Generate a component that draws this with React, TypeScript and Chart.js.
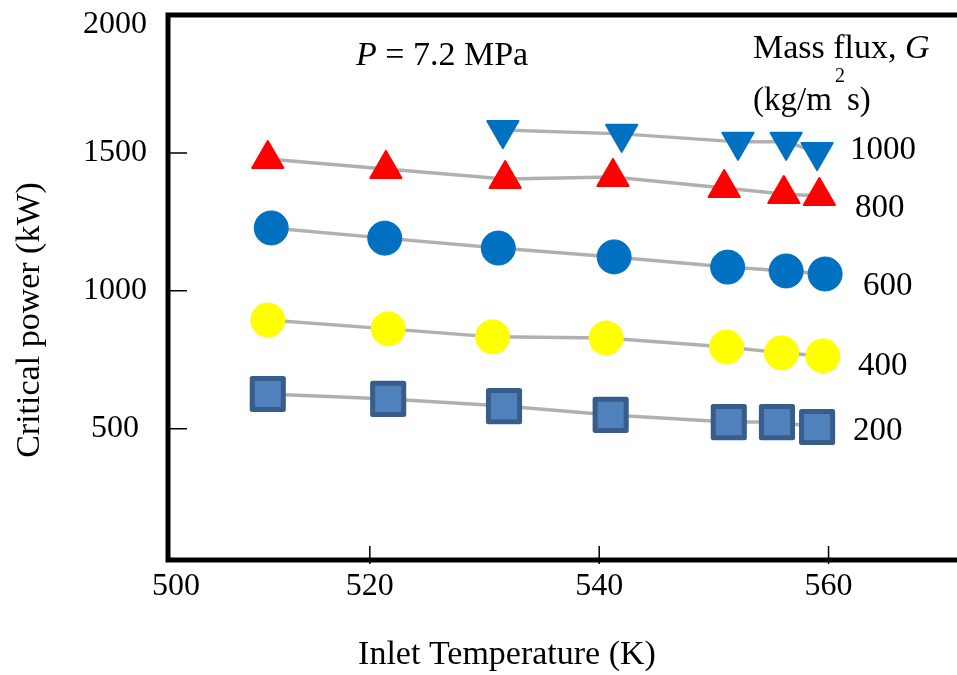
import React, { useEffect, useRef } from 'react';
import { Chart, registerables } from 'chart.js';

Chart.register(...registerables);

// ---- axis ranges & ticks ----
const X_MIN = 502.4;
const X_MAX = 571.2;
const Y_MIN = 24;
const Y_MAX = 2000;
const xTickValues = [502.4, 520, 540, 560];
const xTickLabels = ['500', '520', '540', '560'];
const yTickValues = [500, 1000, 1500, 2000];
const yTickLabels = ['500', '1000', '1500', '2000'];

// ---- series (mass flux G, kg/m2 s) ----
const seriesNames = ['1000', '800', '600', '400', '200'];

const g1000X = [531.6, 541.96, 552.1, 556.3, 559.0];
const g1000Y = [1583, 1569, 1540, 1540, 1503];

const g800X = [511.1, 521.4, 531.8, 541.2, 550.9, 556.1, 559.2];
const g800Y = [1478, 1442, 1405, 1413, 1373, 1351, 1344];

const g600X = [511.4, 521.3, 531.2, 541.3, 551.2, 556.3, 559.7];
const g600Y = [1228, 1191, 1155, 1123, 1086, 1072, 1061];

const g400X = [511.1, 521.6, 530.7, 540.6, 551.1, 555.9, 559.5];
const g400Y = [894, 862, 833, 829, 796, 775, 764];

const g200X = [511.1, 521.6, 531.7, 541.0, 551.3, 555.5, 559.0];
const g200Y = [626, 608, 582, 550, 524, 524, 506];

const FONT = '"Liberation Serif", "Times New Roman", serif';

const toPts = (xs: number[], ys: number[]) => xs.map((x, i) => ({ x, y: ys[i] }));

const framePlugin = {
  id: 'frame',
  beforeDatasetsDraw(chart: any) {
    const { ctx, chartArea, scales } = chart;
    const { left, right, top, bottom } = chartArea;
    const xs = scales.x;
    const ys = scales.y;
    ctx.save();
    ctx.strokeStyle = '#000';
    ctx.lineWidth = 5;
    ctx.lineJoin = 'miter';
    ctx.beginPath();
    ctx.moveTo(right + 10, top);
    ctx.lineTo(left, top);
    ctx.lineTo(left, bottom);
    ctx.lineTo(right + 10, bottom);
    ctx.stroke();
    ctx.lineWidth = 1.5;
    ctx.beginPath();
    for (const v of yTickValues) {
      if (v <= Y_MIN + 1 || v >= Y_MAX - 1) continue;
      const py = ys.getPixelForValue(v);
      ctx.moveTo(left, py);
      ctx.lineTo(left + 19, py);
    }
    for (const v of xTickValues) {
      if (v <= X_MIN + 0.1 || v >= X_MAX - 0.1) continue;
      const px = xs.getPixelForValue(v);
      ctx.moveTo(px, bottom + 4);
      ctx.lineTo(px, bottom - 14);
    }
    ctx.stroke();

    // tick labels
    ctx.fillStyle = '#000';
    ctx.font = `32px ${FONT}`;
    ctx.textAlign = 'center';
    ctx.textBaseline = 'middle';
    yTickValues.forEach((v, i) => {
      const py = Math.max(ys.getPixelForValue(v), top + 10);
      ctx.fillText(yTickLabels[i], left - 53, py);
    });
    xTickValues.forEach((v, i) => {
      const px = Math.max(xs.getPixelForValue(v), left + 8);
      ctx.fillText(xTickLabels[i], px, bottom + 27);
    });
    ctx.restore();
    ctx.lineJoin = 'round';
  },
  afterDatasetsDraw(chart: any) {
    chart.ctx.lineJoin = 'miter';
  },
  afterDraw(chart: any) {
    const { ctx } = chart;
    ctx.save();
    ctx.fillStyle = '#000';
    ctx.textBaseline = 'alphabetic';
    ctx.textAlign = 'left';

    // P = 7.2 MPa
    ctx.font = `italic 34px ${FONT}`;
    ctx.fillText('P', 356, 65);
    const pw = ctx.measureText('P').width;
    ctx.font = `34px ${FONT}`;
    ctx.fillText(' = 7.2 MPa', 356 + pw, 65);

    // Mass flux, G
    ctx.font = `34px ${FONT}`;
    ctx.fillText('Mass flux, ', 753, 58);
    const mw = ctx.measureText('Mass flux, ').width;
    ctx.font = `italic 34px ${FONT}`;
    ctx.fillText('G', 753 + mw, 58);

    // (kg/m2 s)
    ctx.font = `33px ${FONT}`;
    ctx.fillText('(kg/m', 753, 110);
    ctx.fillText('s)', 847, 110);
    ctx.font = `20px ${FONT}`;
    ctx.fillText('2', 835, 82);

    // series labels
    ctx.font = `33px ${FONT}`;
    const labelPos: [number, number][] = [
      [850, 159],
      [855, 217],
      [863, 295],
      [858, 375],
      [853, 440],
    ];
    seriesNames.forEach((n, i) => ctx.fillText(n, labelPos[i][0], labelPos[i][1]));

    // axis titles
    ctx.font = `34px ${FONT}`;
    ctx.textAlign = 'center';
    ctx.textBaseline = 'middle';
    ctx.fillText('Inlet Temperature (K)', 507, 655);
    ctx.translate(30, 320);
    ctx.rotate(-Math.PI / 2);
    ctx.fillText('Critical power (kW)', 0, 0);
    ctx.restore();
  },
};

const LINE_COLOR = 'rgba(150,150,150,0.75)';

export default function App() {
  const ref = useRef<HTMLCanvasElement>(null);

  useEffect(() => {
    if (!ref.current) return;
    const base = {
      showLine: true,
      borderColor: LINE_COLOR,
      borderWidth: 3.5,
      tension: 0,
    };
    const chart = new Chart(ref.current, {
      type: 'scatter',
      data: {
        datasets: [
          {
            ...base,
            label: seriesNames[0],
            data: toPts(g1000X, g1000Y),
            pointStyle: 'triangle',
            rotation: 180,
            pointRadius: 18,
            pointBackgroundColor: '#0070c0',
            pointBorderColor: '#0070c0',
            pointBorderWidth: 2,
          },
          {
            ...base,
            label: seriesNames[1],
            data: toPts(g800X, g800Y),
            pointStyle: 'triangle',
            pointRadius: 18,
            pointBackgroundColor: '#ff0000',
            pointBorderColor: '#ff0000',
            pointBorderWidth: 2,
          },
          {
            ...base,
            label: seriesNames[2],
            data: toPts(g600X, g600Y),
            pointStyle: 'circle',
            pointRadius: 17,
            pointBackgroundColor: '#0070c0',
            pointBorderColor: '#0070c0',
            pointBorderWidth: 1,
          },
          {
            ...base,
            label: seriesNames[3],
            data: toPts(g400X, g400Y),
            pointStyle: 'circle',
            pointRadius: 17,
            pointBackgroundColor: '#ffff00',
            pointBorderColor: '#ffff00',
            pointBorderWidth: 1,
          },
          {
            ...base,
            label: seriesNames[4],
            data: toPts(g200X, g200Y),
            pointStyle: 'rect',
            pointRadius: 22,
            pointBackgroundColor: '#4f81bd',
            pointBorderColor: '#385d8a',
            pointBorderWidth: 5,
          },
        ],
      },
      options: {
        responsive: false,
        animation: false,
        devicePixelRatio: 1,
        layout: { autoPadding: false, padding: { left: 0, right: 0, top: 15, bottom: 0 } },
        plugins: {
          legend: { display: false },
          tooltip: { enabled: false },
        },
        scales: {
          x: {
            type: 'linear',
            min: X_MIN,
            max: X_MAX,
            grid: { display: false, drawTicks: false },
            border: { display: false },
            ticks: { display: false },
            afterFit: (scale: any) => {
              scale.height = 115;
            },
          },
          y: {
            type: 'linear',
            min: Y_MIN,
            max: Y_MAX,
            grid: { display: false, drawTicks: false },
            border: { display: false },
            ticks: { display: false },
            afterFit: (scale: any) => {
              scale.width = 168;
            },
          },
        },
      },
      plugins: [framePlugin],
    } as any);
    return () => chart.destroy();
  }, []);

  return (
    <div style={{ position: 'absolute', left: 0, top: 0, width: 957, height: 675, background: '#fff' }}>
      <canvas ref={ref} width={957} height={675} style={{ display: 'block' }} />
    </div>
  );
}
